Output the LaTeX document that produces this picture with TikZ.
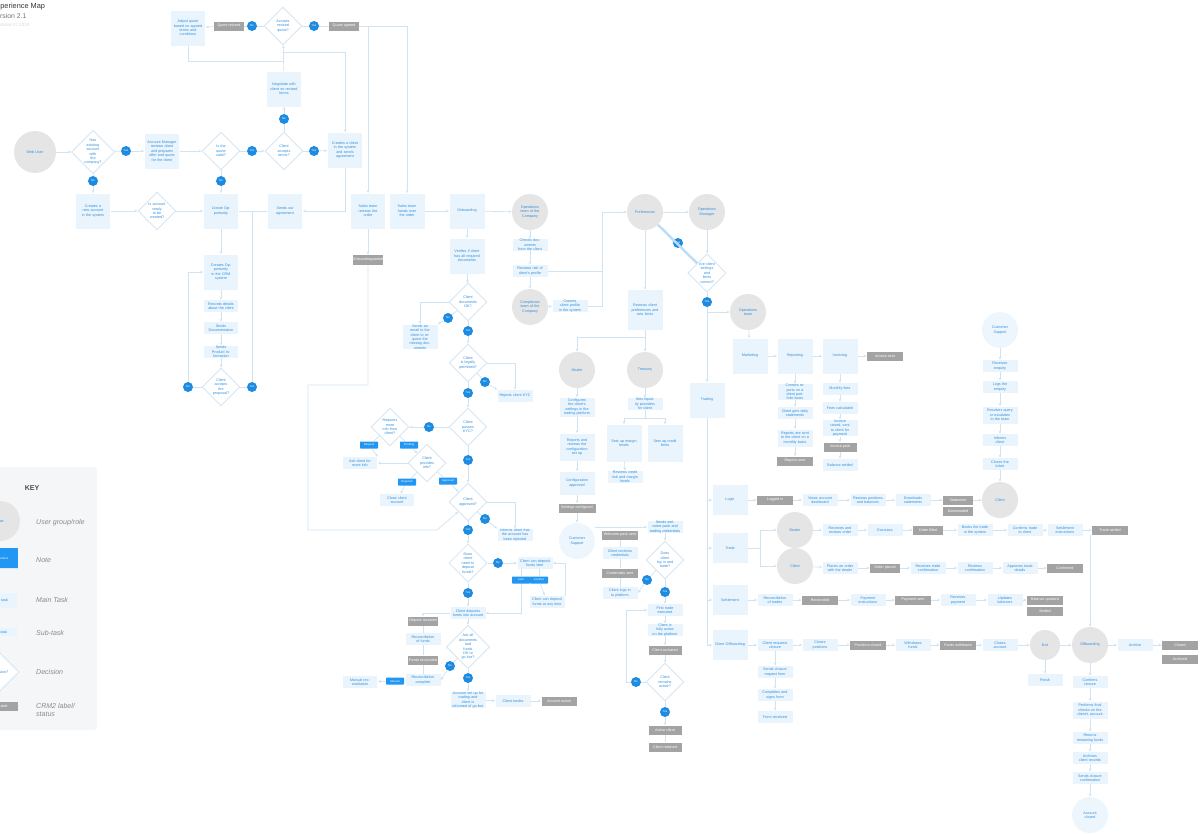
\documentclass[tikz,border=0pt]{standalone}
\usepackage{fontspec}
\setmainfont{Liberation Sans}
\usetikzlibrary{shapes.geometric,arrows.meta}
\definecolor{linec}{HTML}{CFE3F3}
\definecolor{taskfill}{HTML}{EAF4FC}
\definecolor{taskblue}{HTML}{2F8FDD}
\definecolor{usergrey}{HTML}{E5E5E5}
\definecolor{userlight}{HTML}{EEF6FD}
\definecolor{labgrey}{HTML}{A3A3A3}
\definecolor{ynblue}{HTML}{1D8BE0}
\definecolor{notefill}{HTML}{2196F3}
\definecolor{keybg}{HTML}{F5F6F7}
\definecolor{keytext}{HTML}{8A8A8A}
\definecolor{decline}{HTML}{D6E6F3}
\definecolor{hilite}{HTML}{BCDDF5}
\newcommand\fsmall{\fontsize{2.1}{2.5}\selectfont}
\newcommand\fmini{\fontsize{1.6}{1.8}\selectfont}
\begin{document}
\begin{tikzpicture}[x=0.02cm, y=-0.02cm,
  line/.style={draw=linec, line width=0.4pt},
  arr/.style={line, -{Stealth[length=1.8pt,width=1.6pt]}},
  user/.style={circle, fill=usergrey, minimum size=0.72cm, inner sep=0pt, text width=0.5cm, align=center, font=\fsmall, text=taskblue},
  task/.style={rectangle, fill=taskfill, minimum width=0.7cm, minimum height=0.7cm, inner sep=0pt, text width=0.62cm, align=center, font=\fsmall, text=taskblue},
  sub/.style={task, minimum height=0.24cm},
  dec/.style={diamond, draw=decline, line width=0.5pt, fill=white, minimum width=0.76cm, minimum height=0.76cm, aspect=1, inner sep=0pt, text width=0.36cm, align=center, font=\fsmall, text=taskblue},
  lab/.style={rectangle, fill=labgrey, minimum width=0.6cm, minimum height=0.18cm, inner sep=0pt, font=\fsmall, text=white},
  yn/.style={circle, fill=ynblue, minimum size=0.2cm, inner sep=0pt, font=\fmini, text=white},
  note/.style={rectangle, fill=notefill, rounded corners=0.4pt, minimum width=0.36cm, minimum height=0.14cm, inner sep=0pt, font=\fmini, text=white},
  keylabel/.style={anchor=west, font=\fontsize{4}{4.8}\selectfont\itshape, text=keytext, align=left}]
\useasboundingbox (0,0) rectangle (1201,833);

% title
\node[anchor=base west, inner sep=0pt, font=\fontsize{4.2}{5}\selectfont, text=black!80] (title) at (-8.6,8.5) {Experience Map};
\node[anchor=base west, inner sep=0pt, font=\fontsize{3.9}{5}\selectfont, text=black!55] (version) at (-8.3,18.5) {Version 2.1};
\node[anchor=base west, inner sep=0pt, font=\fontsize{2.6}{3}\selectfont, text=black!15] (date) at (-6,26) {Updated 07.2019};

% key
\fill[keybg, rounded corners=2pt] (-10,467) rectangle (97,730);
\node[font=\fontsize{4}{5}\selectfont\bfseries, text=black!70] (key) at (32,488) {KEY};
\node[user, minimum size=0.8cm] (kuser) at (0,521) {User};
\node[note, minimum width=0.72cm, minimum height=0.4cm] (knote) at (0,558) {Note text\\here};
\node[task, minimum height=0.3cm] (ktask) at (0,600) {Main task};
\node[sub, minimum height=0.16cm] (ksub) at (0,632) {Sub-task};
\node[dec] (kdec) at (0,672) {Decision?};
\node[lab] (klab) at (3,706) {Label};
\node[keylabel] at (30,523) {User group/role};
\node[keylabel] at (30,560) {Note};
\node[keylabel] at (30,600) {Main Task};
\node[keylabel] at (30,633) {Sub-task};
\node[keylabel] at (30,672) {Decision};
\node[keylabel] at (30,710) {CRM2 label/\\status};

% sales: top part
\node[task] (A1) at (188,28) {Adjust quote\\based on agreed\\terms and\\conditions};
\node[lab] (G1) at (229,26) {Quote revised};
\node[yn] (c1) at (252,26) {No};
\node[dec] (D1) at (283,26) {Accepts\\revised\\quote?};
\node[yn] (c2) at (314,26) {Yes};
\node[lab] (G2) at (344,26) {Quote agreed};
\node[task] (B1) at (284,89) {Negotiate with\\client on revised\\terms};
\node[yn] (c3) at (284,119) {No};
\node[dec] (D3) at (284,151) {Client\\accepts\\terms?};
\node[user, minimum size=0.84cm] (U1) at (35,152) {Web User};
\node[dec] (D2) at (93,152) {Has existing\\account with\\the company?};
\node[yn] (c4) at (126,151) {Yes};
\node[task] (A2) at (162,151) {Account Manager\\reviews client\\and prepares\\offer and quote\\for the client};
\node[dec] (D4) at (221,151) {Is the\\quote valid?};
\node[yn] (c5) at (252,151) {Yes};
\node[yn] (c6) at (314,151) {Yes};
\node[task] (A6) at (345,150) {Creates a client\\in the system\\and sends\\agreement};
\node[yn] (c7) at (93,181) {No};
\node[task] (A3) at (93,211) {Creates a new account\\in the system};
\node[dec] (D5) at (157,211) {Is account\\ready to be\\created?};
\node[task] (A4) at (221,211) {Create Opportunity};
\node[yn] (c8) at (221,181) {No};
\node[task] (B4) at (285,211) {Sends out agreement};
\node[task] (M1) at (368,211) {Sales team\\reviews the\\order};
\node[task] (M2) at (407,211) {Sales team\\hands over\\the order};
\node[task] (M3) at (467,211) {Onboarding};
\node[lab, minimum width=0.54cm, minimum height=0.2cm] (G3) at (368,260) {Onboarding\\started};
\node[task] (A5) at (221,272) {Creates Opportunity\\in the CRM system};
\node[sub] (s1) at (221,306) {Records details\\about the client};
\node[sub] (s2) at (221,328) {Sends\\Documentation};
\node[sub] (s3) at (221,352) {Sends\\Product Information};
\node[dec] (D6) at (221,387) {Client\\accepts the\\proposal?};
\node[yn] (c9) at (188,387) {No};
\node[yn] (c10) at (252,387) {Yes};
\coordinate (k1) at (283,52);
\coordinate (k2) at (252,211);
\coordinate (k3) at (308,385);
\coordinate (k4) at (437,530);

% onboarding: middle column
\node[task] (T1) at (467,256) {Verifies if client\\has all required\\documents};
\node[dec] (D8) at (468,302) {Client\\documents\\OK?};
\node[yn] (c11) at (448,318) {No};
\node[sub] (S4) at (420,337) {Sends an email to the\\client to request the\\missing documents};
\node[yn] (c12) at (468,331) {Yes};
\node[dec] (D9) at (468,363) {Client\\is legally\\permitted?};
\node[yn] (c13) at (485,382) {No};
\node[sub] (S5) at (515,396) {Rejects client KYC};
\node[yn] (c14) at (468,393) {Yes};
\node[dec] (D10) at (468,427) {Client\\passes\\KYC?};
\node[yn] (c15) at (429,427) {No};
\node[dec] (D11) at (390,427) {Requires more\\info from client?};
\node[note] (N1) at (369,445) {Request};
\node[note] (N2) at (409,445) {Pending};
\node[sub] (S6) at (360,463) {Ask client for more info};
\node[dec] (D12) at (427,463) {Client\\provides info?};
\node[note] (N3) at (407,482) {Rejected};
\node[note] (N4) at (448,481) {Approved};
\node[sub] (S7) at (397,500) {Close client account};
\node[yn] (c16) at (468,460) {Yes};
\node[dec] (D13) at (468,502) {Client\\approved?};
\node[yn] (c17) at (485,519) {No};
\node[sub] (S8) at (515,535) {Informs client that\\the account has\\been rejected};
\node[yn] (c18) at (468,530) {Yes};
\node[dec] (D14) at (468,563) {Does client\\need to\\deposit funds?};
\node[yn] (c19) at (498,563) {No};
\node[sub] (S9) at (535,563) {Client can deposit\\funds later};
\node[note] (N5) at (521,580) {Later};
\node[note] (N6) at (539,580) {Anytime};
\node[sub] (S10) at (547,602) {Client can deposit\\funds at any time};
\node[yn] (c20) at (468,593) {Yes};
\node[sub] (S11) at (468,613) {Client deposits\\funds into account};
\node[lab] (G4) at (423,621) {Deposit received};
\node[sub] (S12) at (423,639) {Reconciliation\\of funds};
\node[lab] (G5) at (423,660) {Funds reconciled};
\node[sub] (S13) at (423,680) {Reconciliation\\complete};
\node[note] (N7) at (395,681) {Manual};
\node[sub] (S29) at (360,682) {Manual reconciliation};
\node[dec] (D15) at (468,647) {Are all\\documents and\\funds OK to\\go live?};
\node[yn] (c21) at (450,666) {No};
\node[yn] (c22) at (468,678) {Yes};
\node[sub, minimum height=0.28cm] (S14) at (468,700) {Account set up for\\trading and client is\\informed of go-live};
\node[sub] (S15) at (513,701) {Client trades};
\node[lab, minimum width=0.7cm] (G6) at (559,701) {Account active};

% operations and compliance
\node[user] (U2) at (530,212) {Operations\\team of the\\Company};
\node[sub] (S26) at (530,245) {Checks documents\\from the client};
\node[sub] (S27) at (530,271) {Reviews risk of\\client's profile};
\node[user] (U3) at (530,307) {Compliance\\team of the\\Company};
\node[sub] (S28) at (570,306) {Creates client profile\\in the system};
\coordinate (k6) at (602,212);
\node[user] (U4) at (645,212) {Preferences};
\node[user] (U8) at (707,212) {Operations\\Manager};
\node[dec] (D18) at (707,273) {Are client\\settings and\\limits correct?};
\node[yn] (c28) at (678,243) {Yes};
\node[yn] (c23) at (707,302) {Yes};
\coordinate (k7) at (707,312);
\node[user] (U9) at (748,312) {Operations\\team};
\node[task, minimum height=0.8cm] (T3) at (645,310) {Reviews client\\preferences and\\sets limits};
\coordinate (k8) at (645,337);
\node[user] (U6) at (577,370) {Dealer};
\node[user] (U7) at (645,370) {Treasury};
\node[sub, minimum height=0.38cm] (S21) at (577,407) {Configures\\the client's\\settings in the\\trading platform};
\node[sub, minimum height=0.54cm] (S22) at (577,447) {Reports and\\reviews the\\configuration\\set up};
\node[sub, minimum height=0.46cm] (S23) at (577,483) {Configuration\\approved};
\node[lab, minimum width=0.74cm] (G12) at (577,508) {Settings configured};
\node[user, fill=userlight] (U5) at (577,541) {Customer\\Support};
\node[sub] (S24) at (645,404) {Sets liquidity providers\\for client};
\coordinate (k9) at (645,418);
\node[task, minimum height=0.74cm] (T12) at (624,443) {Sets up margin\\levels};
\node[task, minimum height=0.74cm] (T13) at (665,443) {Sets up credit\\limits};
\node[sub] (S25) at (625,477) {Reviews credit\\risk and margin\\levels};
\node[sub, text=ynblue] (S16) at (665,527) {Sends welcome pack and\\trading credentials};
\node[lab, minimum width=0.72cm] (G7) at (620,535) {Welcome pack sent};
\node[sub] (S17) at (620,553) {Client receives\\credentials};
\node[lab, minimum width=0.72cm] (G8) at (620,573) {Credentials sent};
\node[sub] (S18) at (620,593) {Client logs in\\to platform};
\node[dec] (D16) at (665,560) {Does client\\log in and\\trade?};
\node[yn] (c26) at (647,580) {No};
\node[yn] (c24) at (665,592) {Yes};
\node[sub] (S19) at (665,610) {First trade\\executed};
\node[sub] (S20) at (665,630) {Client is fully active\\on the platform};
\node[lab, minimum width=0.66cm] (G9) at (665,650) {Client activated};
\node[dec] (D17) at (665,682) {Client\\remains\\active?};
\node[yn] (c27) at (636,682) {No};
\coordinate (k10) at (626,682);
\node[yn] (c25) at (665,712) {Yes};
\node[lab, minimum width=0.66cm] (G10) at (665,730) {Active client};
\node[lab, minimum width=0.66cm] (G11) at (665,747) {Client retained};

% business as usual
\node[task] (T4) at (707,400) {Trading};
\node[task] (T5) at (750,356) {Marketing};
\node[task] (T6) at (795,356) {Reporting};
\node[task] (T7) at (840,356) {Invoicing};
\node[lab, minimum width=0.72cm] (G13) at (885,356) {Invoice sent};
\node[sub] (R1) at (795,392) {Creates reports on a\\client portfolio basis};
\node[sub] (R2) at (795,413) {Client gets daily\\statements};
\node[sub, minimum height=0.34cm] (R3) at (795,438) {Reports are sent\\to the client on a\\monthly basis};
\node[lab, minimum width=0.72cm] (G14) at (795,461) {Reports sent};
\node[sub] (V1) at (840,389) {Monthly fees};
\node[sub] (V2) at (840,408) {Fees calculated};
\node[sub] (V3) at (840,428) {Invoice raised, sent\\to client for payment};
\node[lab, minimum width=0.66cm] (G15) at (840,447) {Invoice paid};
\node[sub] (V4) at (840,465) {Balance settled};

\node[task, minimum height=0.6cm] (T8) at (730,500) {Login};
\node[lab, minimum width=0.72cm] (L1) at (775,500) {Logged in};
\node[sub] (L2) at (820,500) {Views account\\dashboard};
\node[sub] (L3) at (868,500) {Reviews positions\\and balances};
\node[sub] (L4) at (913,500) {Downloads\\statements};
\node[lab] (L5) at (958,500) {Statement};
\node[lab] (L6) at (958,511) {Downloaded};
\node[user] (U10) at (1000,500) {Client};
\node[user, fill=userlight] (U11) at (1000,330) {Customer\\Support};
\node[sub] (Q1) at (1000,366) {Receives\\enquiry};
\node[sub] (Q2) at (1000,387) {Logs the\\enquiry};
\node[sub, minimum height=0.34cm] (Q3) at (1000,415) {Resolves query\\or escalates\\to the team};
\node[sub] (Q4) at (1000,440) {Informs\\client};
\node[sub] (Q5) at (1000,464) {Closes the\\ticket};

\node[task, minimum height=0.6cm] (T9) at (730,548) {Trade};
\node[user] (U12) at (795,530) {Dealer};
\node[user] (U13) at (795,566) {Client};
\node[sub] (P1) at (840,530) {Receives and\\reviews order};
\node[sub] (P2) at (885,530) {Executes};
\node[lab] (P3) at (928,530) {Order filled};
\node[sub] (P4) at (975,530) {Books the trade\\in the system};
\node[sub] (P5) at (1025,530) {Confirms trade\\to client};
\node[sub] (P6) at (1065,530) {Settlement\\instructions};
\node[lab, minimum width=0.72cm] (P7) at (1110,530) {Trade settled};
\node[sub] (O1) at (840,568) {Places an order\\with the dealer};
\node[lab] (O2) at (885,568) {Order placed};
\node[sub] (O3) at (928,568) {Receives trade\\confirmation};
\node[sub] (O4) at (975,568) {Reviews\\confirmation};
\node[sub] (O5) at (1020,568) {Approves trade\\details};
\node[lab, minimum width=0.72cm] (O6) at (1065,568) {Confirmed};

\node[task, minimum height=0.6cm] (T10) at (730,600) {Settlement};
\node[sub] (E1) at (775,600) {Reconciliation\\of trades};
\node[lab, minimum width=0.72cm] (E2) at (820,600) {Reconciled};
\node[sub] (E3) at (868,600) {Payment\\instructions};
\node[lab, minimum width=0.72cm] (E4) at (913,600) {Payment sent};
\node[sub] (E5) at (958,600) {Receives\\payment};
\node[sub] (E6) at (1005,600) {Updates\\balances};
\node[lab, minimum width=0.72cm] (E7) at (1045,600) {Balance updated};
\node[lab, minimum width=0.72cm] (E8) at (1045,611) {Settled};

\node[task, minimum height=0.6cm] (T11) at (730,645) {Client Offboarding};
\node[sub] (F1) at (775,645) {Client requests\\closure};
\node[sub] (F2) at (820,645) {Closes\\positions};
\node[lab, minimum width=0.72cm] (F3) at (868,645) {Positions closed};
\node[sub] (F4) at (913,645) {Withdraws\\funds};
\node[lab, minimum width=0.72cm] (F5) at (958,645) {Funds withdrawn};
\node[sub] (F6) at (1000,645) {Closes\\account};
\node[user, minimum size=0.6cm] (U14) at (1045,645) {Exit};
\node[sub] (F7) at (1045,680) {Finish};
\node[user] (U15) at (1090,645) {Offboarding};
\node[sub] (F8) at (1135,645) {Archive};
\node[lab, minimum width=0.72cm] (F9) at (1180,645) {Closed};
\node[lab, minimum width=0.72cm] (F10) at (1180,659) {Archived};
\node[sub] (H1) at (775,672) {Sends closure\\request form};
\node[sub] (H2) at (775,695) {Completes and\\signs form};
\node[sub] (H3) at (775,717) {Form received};
\node[sub] (W1) at (1090,682) {Confirms\\closure};
\node[sub, minimum height=0.34cm] (W2) at (1090,710) {Performs final\\checks on the\\client's account};
\node[sub] (W3) at (1090,738) {Returns\\remaining funds};
\node[sub] (W4) at (1090,758) {Archives\\client records};
\node[sub] (W5) at (1090,778) {Sends closure\\confirmation};
\node[user, fill=userlight] (U16) at (1090,815) {Account\\closed};

% connectors: sales
\draw[arr] (U1) -- (D2);
\draw[line] (D2) -- (c4); \draw[arr] (c4) -- (A2);
\draw[arr] (A2) -- (D4);
\draw[line] (D4) -- (c5); \draw[arr] (c5) -- (D3);
\draw[line] (D3) -- (c6); \draw[arr] (c6) -- (A6);
\draw[line] (D3) -- (c3); \draw[arr] (c3) -- (B1);
\draw[arr] (B1) -- (D1);
\draw[line] (D1) -- (c1); \draw[line] (c1) -- (G1); \draw[arr] (G1) -- (A1);
\draw[line] (D1) -- (c2); \draw[line] (c2) -- (G2);
\draw[arr] (G2.east) -| (M1.north);
\draw[arr] (G2.east) -| (M2.north);
\draw[line] (A1.south) |- (B1.north |- 0,61);
\draw[arr] (k1) -| (A6.north);
\draw[arr] (A6.south) |- (B4.east);
\draw[line] (D2) -- (c7); \draw[arr] (c7) -- (A3);
\draw[arr] (A3) -- (D5);
\draw[arr] (D5) -- (A4);
\draw[line] (D4) -- (c8); \draw[arr] (c8) -- (A4);
\draw[line] (A4) -- (B4);
\draw[arr] (A4) -- (A5);
\draw[arr] (A5) -- (s1);
\draw[arr] (s1) -- (s2);
\draw[arr] (s2) -- (s3);
\draw[arr] (s3) -- (D6);
\draw[line] (D6) -- (c9); \draw[arr] (c9) |- (A5.west);
\draw[line] (D6) -- (c10); \draw[line] (c10) -- (k2);
\draw[arr] (M1) -- (G3);
\draw[arr] (G3.south) |- (k3) |- (k4) -- (D13.south west);
\draw[arr] (M2) -- (M3);
\draw[arr] (M3) -- (U2);
\draw[arr] (M3) -- (T1);
\draw[arr] (T1) -- (D8);

% connectors: onboarding
\draw[arr] (D8.west) -| (S4.north);
\draw[line] (D8) -- (c11); \draw[arr] (c11) -- (S4.north east);
\draw[line] (D8) -- (c12); \draw[arr] (c12) -- (D9);
\draw[arr] (D9.east) -| (S5.north);
\draw[line] (D9) -- (c13); \draw[arr] (c13) -- (S5.north west);
\draw[line] (D9) -- (c14); \draw[arr] (c14) -- (D10);
\draw[line] (D10) -- (c15); \draw[arr] (c15) -- (D11);
\draw[line] (D11) -- (N1); \draw[arr] (N1) -- (S6.north east);
\draw[line] (D11) -- (N2); \draw[arr] (N2) -- (D12);
\draw[arr] (D12.west) -- (S6.east);
\draw[line] (D12) -- (N3); \draw[arr] (N3) -- (S7);
\draw[line] (D12) -- (N4); \draw[arr] (N4) -- (D13);
\draw[line] (D10) -- (c16); \draw[arr] (c16) -- (D13);
\draw[arr] (D13.east) -| (S8.north);
\draw[line] (D13) -- (c17); \draw[arr] (c17) -- (S8.north west);
\draw[line] (D13) -- (c18); \draw[arr] (c18) -- (D14);
\draw[line] (D14) -- (c19); \draw[arr] (c19) -- (S9);
\draw[line] (S9.south -| N5) -- (N5);
\draw[line] (S9.south -| N6) -- (N6);
\draw[arr] (N5) |- (S11.east);
\draw[arr] (N6) -- (S10);
\draw[arr] (S10.north east) |- (S9.east);
\draw[line] (D14) -- (c20); \draw[arr] (c20) -- (S11);
\draw[arr] (S11.west) -| (G4.north);
\draw[line] (G4) -- (S12);
\draw[line] (S12) -- (G5);
\draw[line] (G5) -- (S13);
\draw[arr] (S11) -- (D15);
\draw[line] (D15) -- (c21); \draw[arr] (c21) -- (S13.east);
\draw[line] (S13) -- (N7); \draw[arr] (N7) -- (S29);
\draw[line] (D15) -- (c22); \draw[arr] (c22) -- (S14);
\draw[arr] (S14) -- (S15);
\draw[arr] (S15) -- (G6);

% connectors: operations
\draw[arr] (U2) -- (S26);
\draw[arr] (S26) -- (S27);
\draw[arr] (S27) -- (U3);
\draw[arr] (U3) -- (S28);
\draw[line] (S28.east) -| (k6);
\draw[line] (S27.east) -- (S27.east -| k6);
\draw[arr] (k6) -- (U4);
\draw[arr] (U4) -- (U8);
\draw[hilite, line width=1.4pt] (U4) -- (D18);
\draw[arr] (U8) -- (D18);
\draw[line] (D18) -- (c23);
\draw[arr] (c23) -- (T4);
\draw[arr] (k7) -- (U9);
\draw[arr] (U4) -- (T3);
\draw[line] (T3.south) -- (k8);
\draw[arr] (k8) -| (U6);
\draw[arr] (k8) -- (U7);
\draw[arr] (U6) -- (S21);
\draw[arr] (S21) -- (S22);
\draw[arr] (S22) -- (S23);
\draw[arr] (S23) -- (G12);
\draw[arr] (G12) -- (U5);
\draw[arr] (U7) -- (S24);
\draw[line] (S24.south) -- (k9);
\draw[arr] (k9) -| (T12);
\draw[arr] (k9) -| (T13);
\draw[arr] (T12) -- (S25);
\draw[arr] (U5.east |- S16.west) -- (S16.west);
\draw[line] (G7) -- (S17);
\draw[line] (S17) -- (G8);
\draw[line] (G8) -- (S18);
\draw[arr] (S16) -- (D16);
\draw[line] (D16) -- (c26); \draw[arr] (c26) -- (S18.east);
\draw[line] (D16) -- (c24); \draw[arr] (c24) -- (S19);
\draw[arr] (S19) -- (S20);
\draw[arr] (S20) -- (G9);
\draw[arr] (G9) -- (D17);
\draw[line] (D17) -- (c27); \draw[arr] (c27) -- (k10) |- (S19.west);
\draw[line] (D17) -- (c25); \draw[arr] (c25) -- (G10);
\draw[line] (G10) -- (G11);

% connectors: business as usual
\draw[line] (T4.south) -- (T4.south |- T11.west);
\draw[arr] (T4.south |- T8.west) -- (T8.west);
\draw[arr] (T4.south |- T9.west) -- (T9.west);
\draw[arr] (T4.south |- T10.west) -- (T10.west);
\draw[arr] (T4.south |- T11.west) -- (T11.west);
\draw[arr] (U9) -- (T5);
\draw[arr] (T5) -- (T6);
\draw[arr] (T6) -- (T7);
\draw[arr] (T7) -- (G13);
\draw[arr] (T6) -- (R1);
\draw[arr] (R1) -- (R2);
\draw[arr] (R2) -- (R3);
\draw[arr] (R3) -- (G14);
\draw[arr] (T7) -- (V1);
\draw[arr] (V1) -- (V2);
\draw[arr] (V2) -- (V3);
\draw[arr] (V3) -- (G15);
\draw[arr] (G15) -- (V4);
\draw[arr] (T8) -- (L1);
\draw[arr] (L1) -- (L2);
\draw[arr] (L2) -- (L3);
\draw[arr] (L3) -- (L4);
\draw[arr] (L4) -- (L5);
\draw[arr] (L5) -- (U10);
\draw[arr] (U11) -- (Q1);
\draw[arr] (Q1) -- (Q2);
\draw[arr] (Q2) -- (Q3);
\draw[arr] (Q3) -- (Q4);
\draw[arr] (Q4) -- (Q5);
\draw[arr] (Q5) -- (U10);
\draw[line] (T9.east) -- ++(12,0) coordinate (k12);
\draw[arr] (k12) |- (U12);
\draw[arr] (k12) |- (U13);
\draw[arr] (U12) -- (P1);
\draw[arr] (P1) -- (P2);
\draw[arr] (P2) -- (P3);
\draw[arr] (P3) -- (P4);
\draw[arr] (P4) -- (P5);
\draw[arr] (P5) -- (P6);
\draw[arr] (P6) -- (P7);
\draw[arr] (U13) -- (O1);
\draw[arr] (O1) -- (O2);
\draw[arr] (O2) -- (O3);
\draw[arr] (O3) -- (O4);
\draw[arr] (O4) -- (O5);
\draw[arr] (O5) -- (O6);
\draw[arr] (T10) -- (E1);
\draw[arr] (E1) -- (E2);
\draw[arr] (E2) -- (E3);
\draw[arr] (E3) -- (E4);
\draw[arr] (E4) -- (E5);
\draw[arr] (E5) -- (E6);
\draw[arr] (E6) -- (E7);
\draw[arr] (T11) -- (F1);
\draw[arr] (F1) -- (F2);
\draw[arr] (F2) -- (F3);
\draw[arr] (F3) -- (F4);
\draw[arr] (F4) -- (F5);
\draw[arr] (F5) -- (F6);
\draw[arr] (F6) -- (U14);
\draw[arr] (U14) -- (U15);
\draw[arr] (U14) -- (F7);
\draw[arr] (U15) -- (F8);
\draw[arr] (F8) -- (F9);
\draw[arr] (P7.south -| U15) -- (U15);
\draw[arr] (F1) -- (H1);
\draw[arr] (H1) -- (H2);
\draw[arr] (H2) -- (H3);
\draw[arr] (U15) -- (W1);
\draw[arr] (W1) -- (W2);
\draw[arr] (W2) -- (W3);
\draw[arr] (W3) -- (W4);
\draw[arr] (W4) -- (W5);
\draw[arr] (W5) -- (U16);
\end{tikzpicture}
\end{document}
